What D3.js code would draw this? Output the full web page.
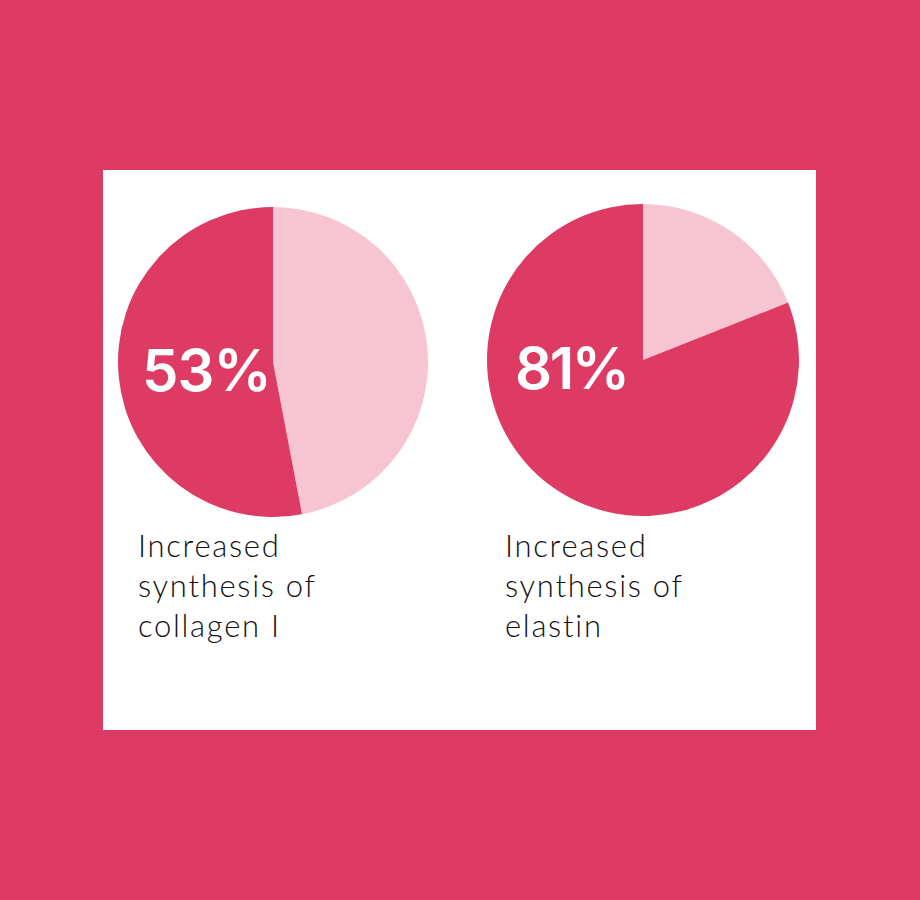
<!DOCTYPE html>
<html><head><meta charset="utf-8">
<script src="https://cdn.jsdelivr.net/npm/d3@7"></script>
<style>html,body{margin:0;padding:0;background:#DD3A64;}svg{display:block;}</style>
</head><body>
<svg id="c" width="920" height="900"></svg>
<script>
const categories = ["collagen I", "elastin"];
const increasedPct = [53, 81];
const pctLabels = ["53%", "81%"];
const captionLines = [["Increased", "synthesis of", "collagen I"], ["Increased", "synthesis of", "elastin"]];

const svg = d3.select("#c");
svg.append("rect").attr("x", 0).attr("y", 0).attr("width", 920).attr("height", 900).attr("fill", "#DD3A64");
svg.append("rect").attr("x", 103).attr("y", 170).attr("width", 713).attr("height", 560).attr("fill", "#ffffff");

const centers = [[273, 362], [643, 360]];
const radii = [155, 156];
const colorScale = d3.scaleOrdinal().domain(["rest", "increased"]).range(["#F7C4D1", "#DD3A64"]);
const pie = d3.pie().sort(null).value(d => d.v);

categories.forEach((cat, i) => {
  const data = [{k: "rest", v: 100 - increasedPct[i]}, {k: "increased", v: increasedPct[i]}];
  const arc = d3.arc().innerRadius(0).outerRadius(radii[i]);
  const g = svg.append("g").attr("transform", `translate(${centers[i][0]},${centers[i][1]})`);
  g.selectAll("path").data(pie(data)).join("path")
    .attr("d", arc).attr("fill", d => colorScale(d.data.k));
  g.append("text").text(pctLabels[i])
    .attr("x", i === 0 ? -131 : -128).attr("y", 29)
    .attr("fill", "#fff").attr("font-family", "Inter, 'Open Sans', sans-serif")
    .attr("font-weight", 600).attr("font-size", 58).attr("letter-spacing", i === 0 ? -1 : -2.5);
  const tx = i === 0 ? 138 : 505;
  captionLines[i].forEach((ln, j) => {
    svg.append("text").text(ln).attr("x", tx).attr("y", 557 + j * 40)
      .attr("fill", "#111").attr("font-family", "Lato, 'Noto Sans', sans-serif")
      .attr("font-weight", 300).attr("font-size", 31).attr("letter-spacing", 1.7);
  });
});
</script>
</body></html>
